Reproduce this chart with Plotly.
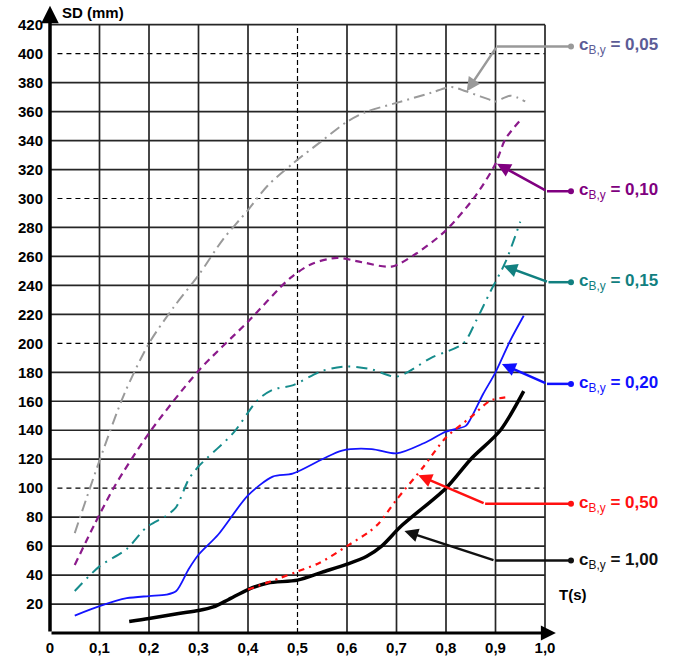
import plotly.graph_objects as go

# ---------------- data ----------------
x_005 = [0.05, 0.10, 0.15, 0.20, 0.25, 0.30, 0.35, 0.40, 0.44, 0.49, 0.55, 0.60, 0.64, 0.70, 0.77, 0.81, 0.84, 0.89, 0.90, 0.93, 0.96]
y_005 = [69, 119, 165, 200, 225, 247, 272, 292, 309, 324, 340, 353, 360, 366, 373, 377, 374, 368, 367, 371, 367]

x_010 = [0.05, 0.09, 0.13, 0.20, 0.30, 0.40, 0.485, 0.53, 0.58, 0.63, 0.69, 0.74, 0.80, 0.86, 0.90, 0.92, 0.95]
y_010 = [47, 75, 101, 138, 181, 215, 245, 255, 259, 256, 253, 262, 278, 302, 324, 341, 354]

x_015 = [0.05, 0.10, 0.155, 0.195, 0.235, 0.255, 0.28, 0.30, 0.37, 0.42, 0.45, 0.49, 0.55, 0.60, 0.65, 0.70, 0.77, 0.835, 0.86, 0.89, 0.92, 0.95]
y_015 = [29, 46, 58, 73, 81, 87, 106, 115, 138, 161, 168, 171, 181, 184, 182, 177, 190, 200, 215, 236, 256, 284]

x_020 = [0.05, 0.10, 0.155, 0.20, 0.235, 0.255, 0.28, 0.30, 0.34, 0.40, 0.45, 0.49, 0.55, 0.59, 0.65, 0.70, 0.755, 0.80, 0.84, 0.85, 0.875, 0.90, 0.93, 0.957]
y_020 = [12, 18.5, 24, 25.5, 26.5, 29, 44, 54, 68, 95, 108, 110, 120, 126, 127, 124, 131, 139, 143, 148, 165, 180, 202, 219]

x_050 = [0.40, 0.465, 0.50, 0.545, 0.60, 0.645, 0.665, 0.70, 0.755, 0.80, 0.85, 0.89, 0.93]
y_050 = [30, 38, 42.5, 48.5, 60, 70, 76, 92, 115, 135, 149, 160.5, 163]

x_100 = [0.16, 0.20, 0.26, 0.30, 0.33, 0.36, 0.40, 0.44, 0.50, 0.55, 0.60, 0.64, 0.67, 0.71, 0.80, 0.85, 0.91, 0.957]
y_100 = [8, 10, 13.5, 15.5, 18, 23, 30, 34.5, 36.5, 42, 47.5, 53, 60, 74, 100, 120, 140, 167]

# label values and connector geometry (tip of arrow, bend point, end dot)
label_vals = ["0,05", "0,10", "0,15", "0,20", "0,50", "1,00"]
tip_x = [0.842, 0.903, 0.916, 0.913, 0.744, 0.716]
tip_y = [374, 324, 253.6, 185.7, 109, 70.4]
bend_x = [0.903, 1.004, 1.007, 1.004, 0.879, 0.899]
label_y = [405, 305, 242.2, 172, 89.2, 50]
dot_x = 1.0525

x_ticks = [0, 0.1, 0.2, 0.3, 0.4, 0.5, 0.6, 0.7, 0.8, 0.9, 1.0]
x_ticktext = ["0", "0,1", "0,2", "0,3", "0,4", "0,5", "0,6", "0,7", "0,8", "0,9", "1,0"]
y_ticks = list(range(20, 421, 20))

# ---------------- styling ----------------
series = [
    (x_005, y_005, "#9a9a9a", "11px,5px,2px,5px", 2.0),
    (x_010, y_010, "#8b1a8b", "7px,5px", 2.2),
    (x_015, y_015, "#168c8c", "11px,6px,2px,6px", 2.0),
    (x_020, y_020, "#1414ff", "solid", 1.8),
    (x_100, y_100, "#000000", "solid", 3.5),
    (x_050, y_050, "#ff1010", "6px,5px,2px,5px", 2.2),
]
label_line_colors = ["#999999", "#800080", "#118080", "#1010ff", "#ff1010", "#111111"]
label_text_colors = ["#5c5c96", "#800080", "#118080", "#1010ff", "#ff1010", "#111111"]

fig = go.Figure()

for xs, ys, col, dash, w in series:
    fig.add_trace(go.Scatter(x=xs, y=ys, mode="lines",
                             line=dict(color=col, dash=dash, width=w, shape="spline", smoothing=0.8),
                             showlegend=False, hoverinfo="skip"))

# connector horizontal segments with end dots
for i in range(len(label_vals)):
    fig.add_trace(go.Scatter(x=[dot_x, bend_x[i]], y=[label_y[i], label_y[i]], mode="lines",
                             line=dict(color=label_line_colors[i], width=2.5),
                             showlegend=False, hoverinfo="skip"))
    fig.add_trace(go.Scatter(x=[dot_x], y=[label_y[i]], mode="markers",
                             marker=dict(color=label_line_colors[i], size=6),
                             showlegend=False, hoverinfo="skip"))

shapes = []
# horizontal grid
for v in y_ticks:
    if v % 100 == 0:
        shapes.append(dict(type="line", xref="x", yref="y", x0=0.015, x1=1.0, y0=v, y1=v,
                           line=dict(color="#000000", width=1.2, dash="5px,4px"), layer="below"))
    else:
        shapes.append(dict(type="line", xref="x", yref="y", x0=0, x1=1.0, y0=v, y1=v,
                           line=dict(color="#262626", width=1.7), layer="below"))
# vertical grid
for v in x_ticks[1:]:
    if abs(v - 0.5) < 1e-9:
        shapes.append(dict(type="line", xref="x", yref="y", x0=v, x1=v, y0=0, y1=420,
                           line=dict(color="#000000", width=1.2, dash="5px,3px"), layer="below"))
    else:
        shapes.append(dict(type="line", xref="x", yref="y", x0=v, x1=v, y0=0, y1=420,
                           line=dict(color="#262626", width=1.7), layer="below"))

annotations = []
# axes with arrows
annotations.append(dict(x=1.022, y=0, ax=0, ay=0, xref="x", yref="y", axref="x", ayref="y",
                        text="", showarrow=True, arrowhead=2, arrowsize=1.0, arrowwidth=3,
                        arrowcolor="#000000", standoff=0))
annotations.append(dict(x=0, y=433, ax=0, ay=0, xref="x", yref="y", axref="x", ayref="y",
                        text="", showarrow=True, arrowhead=2, arrowsize=1.0, arrowwidth=3.5,
                        arrowcolor="#000000", standoff=0))
annotations.append(dict(x=0.02, y=428.5, xref="x", yref="y", text="<b>SD (mm)</b>", showarrow=False,
                        xanchor="left", yanchor="middle",
                        font=dict(family="Arial", size=15, color="#000000")))
annotations.append(dict(x=1.025, y=26.5, xref="x", yref="y", text="<b>T(s)</b>", showarrow=False,
                        xanchor="left", yanchor="middle",
                        font=dict(family="Arial", size=15, color="#000000")))

for i in range(len(label_vals)):
    annotations.append(dict(x=tip_x[i], y=tip_y[i], ax=bend_x[i], ay=label_y[i],
                            xref="x", yref="y", axref="x", ayref="y", text="",
                            showarrow=True, arrowhead=2, arrowsize=1.1, arrowwidth=2.5,
                            arrowcolor=label_line_colors[i], standoff=0))
    annotations.append(dict(x=dot_x + 0.012, y=label_y[i], xref="x", yref="y",
                            text="<b>c</b><sub>B,y</sub><b> = " + label_vals[i] + "</b>",
                            showarrow=False, xanchor="left", yanchor="middle",
                            font=dict(family="Arial", size=17, color=label_text_colors[i])))

fig.update_layout(
    width=681, height=656,
    margin=dict(l=50, r=0, t=0, b=19),
    plot_bgcolor="white", paper_bgcolor="white",
    shapes=shapes, annotations=annotations,
    showlegend=False,
    xaxis=dict(range=[0, 631 / 495], tickvals=x_ticks, ticktext=["<b>%s</b>" % t for t in x_ticktext],
               showgrid=False, zeroline=False, showline=False, ticks="outside", ticklen=1,
               tickcolor="rgba(0,0,0,0)", tickfont=dict(family="Arial", size=15, color="#000000"),
               fixedrange=True),
    yaxis=dict(range=[0, 637 / 1.4575], tickvals=y_ticks, ticktext=["<b>%d</b>" % v for v in y_ticks],
               showgrid=False, zeroline=False, showline=False, ticks="outside", ticklen=3,
               tickcolor="rgba(0,0,0,0)", tickfont=dict(family="Arial", size=15, color="#000000"),
               fixedrange=True),
)

fig.write_html("out.html", config={"displayModeBar": False},
               post_script="document.body.style.margin='0px';document.body.style.overflow='hidden';")
